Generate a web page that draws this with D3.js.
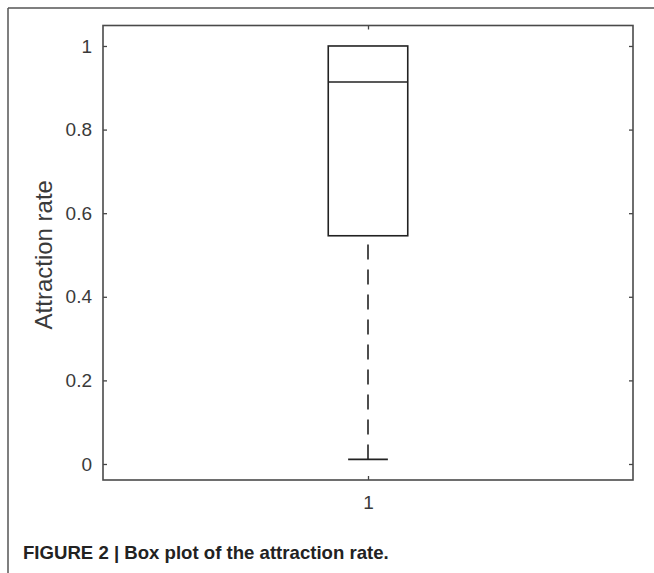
<!DOCTYPE html>
<html>
<head>
<meta charset="utf-8">
<script src="https://d3js.org/d3.v7.min.js"></script>
<style>
  html, body { margin: 0; padding: 0; background: #fff; }
  svg { display: block; }
  .tick text { font-family: "Liberation Sans", Arial, sans-serif; font-size: 19px; fill: #3a3a3a; }
  .tick line { stroke: #444; stroke-width: 1.3; }
  .ylabel { font-family: "Liberation Sans", Arial, sans-serif; font-size: 24px; fill: #3a3a3a; }
  .caption { font-family: "Liberation Sans", Arial, sans-serif; font-size: 18.6px; font-weight: bold; fill: #222; }
</style>
</head>
<body>
<svg id="chart"></svg>
<script>
  // box plot values
  const categories = ["1"];
  const lowerWhisker = [0.011];
  const q1 = [0.546];
  const median = [0.914];
  const q3 = [1.0];
  const upperWhisker = [1.0];
  const yTicks = [0, 0.2, 0.4, 0.6, 0.8, 1];

  const width = 654, height = 573;
  const svg = d3.select("#chart").attr("width", width).attr("height", height);

  // plot area
  const plotL = 103, plotR = 633, plotT = 25.5, plotB = 480;

  const x = d3.scaleLinear().domain([0.5, 1.5]).range([plotL, plotR]);
  const y = d3.scaleLinear().domain([-0.0383, 1.049]).range([plotB, plotT]);

  // outer figure frame (top + left lines)
  svg.append("line").attr("x1", 8).attr("y1", 8).attr("x2", width).attr("y2", 8)
    .attr("stroke", "#555").attr("stroke-width", 1.5);
  svg.append("line").attr("x1", 8).attr("y1", 8).attr("x2", 8).attr("y2", height)
    .attr("stroke", "#555").attr("stroke-width", 1.5);

  // axes (ticks point inward, like MATLAB)
  const yAxis = svg.append("g").attr("transform", `translate(${plotL},0)`)
    .call(d3.axisLeft(y).tickValues(yTicks).tickSize(-4).tickPadding(11)
      .tickFormat(d => d3.format("~g")(d)));
  yAxis.select(".domain").remove();

  const yAxisR = svg.append("g").attr("transform", `translate(${plotR},0)`)
    .call(d3.axisRight(y).tickValues(yTicks).tickSize(-4).tickFormat(""));
  yAxisR.select(".domain").remove();

  const xAxis = svg.append("g").attr("transform", `translate(0,${plotB})`)
    .call(d3.axisBottom(x).tickValues([1]).tickSize(-4).tickPadding(16)
      .tickFormat((d, i) => categories[i]));
  xAxis.select(".domain").remove();

  const xAxisT = svg.append("g").attr("transform", `translate(0,${plotT})`)
    .call(d3.axisTop(x).tickValues([1]).tickSize(-4).tickFormat(""));
  xAxisT.select(".domain").remove();

  // axes frame
  svg.append("rect")
    .attr("x", plotL).attr("y", plotT)
    .attr("width", plotR - plotL).attr("height", plotB - plotT)
    .attr("fill", "none").attr("stroke", "#4a4a4a").attr("stroke-width", 1.6);

  // y label
  svg.append("text").attr("class", "ylabel")
    .attr("transform", `translate(52,${(plotT + plotB) / 2 + 2}) rotate(-90)`)
    .attr("text-anchor", "middle")
    .text("Attraction rate");

  // box plot
  const boxW = 0.15, capW = 0.075;
  const g = svg.append("g");
  categories.forEach((c, i) => {
    const cx = i + 1;
    // lower whisker, dashed, drawn from the bottom upward
    g.append("line")
      .attr("x1", x(cx)).attr("x2", x(cx))
      .attr("y1", y(lowerWhisker[i])).attr("y2", y(q1[i]))
      .attr("stroke", "#222").attr("stroke-width", 1.6)
      .attr("stroke-dasharray", "15,10");
    g.append("line")
      .attr("x1", x(cx - capW / 2)).attr("x2", x(cx + capW / 2))
      .attr("y1", y(lowerWhisker[i])).attr("y2", y(lowerWhisker[i]))
      .attr("stroke", "#222").attr("stroke-width", 1.6);
    // upper whisker (coincides with box top here)
    if (upperWhisker[i] > q3[i]) {
      g.append("line")
        .attr("x1", x(cx)).attr("x2", x(cx))
        .attr("y1", y(upperWhisker[i])).attr("y2", y(q3[i]))
        .attr("stroke", "#222").attr("stroke-width", 1.6)
        .attr("stroke-dasharray", "15,10");
    }
    g.append("rect")
      .attr("x", x(cx - boxW / 2)).attr("y", y(q3[i]))
      .attr("width", x(cx + boxW / 2) - x(cx - boxW / 2))
      .attr("height", y(q1[i]) - y(q3[i]))
      .attr("fill", "none").attr("stroke", "#222").attr("stroke-width", 1.6);
    g.append("line")
      .attr("x1", x(cx - boxW / 2)).attr("x2", x(cx + boxW / 2))
      .attr("y1", y(median[i])).attr("y2", y(median[i]))
      .attr("stroke", "#222").attr("stroke-width", 1.6);
  });

  // caption
  svg.append("text").attr("class", "caption")
    .attr("x", 23).attr("y", 559)
    .text("FIGURE 2 | Box plot of the attraction rate.");
</script>
</body>
</html>
